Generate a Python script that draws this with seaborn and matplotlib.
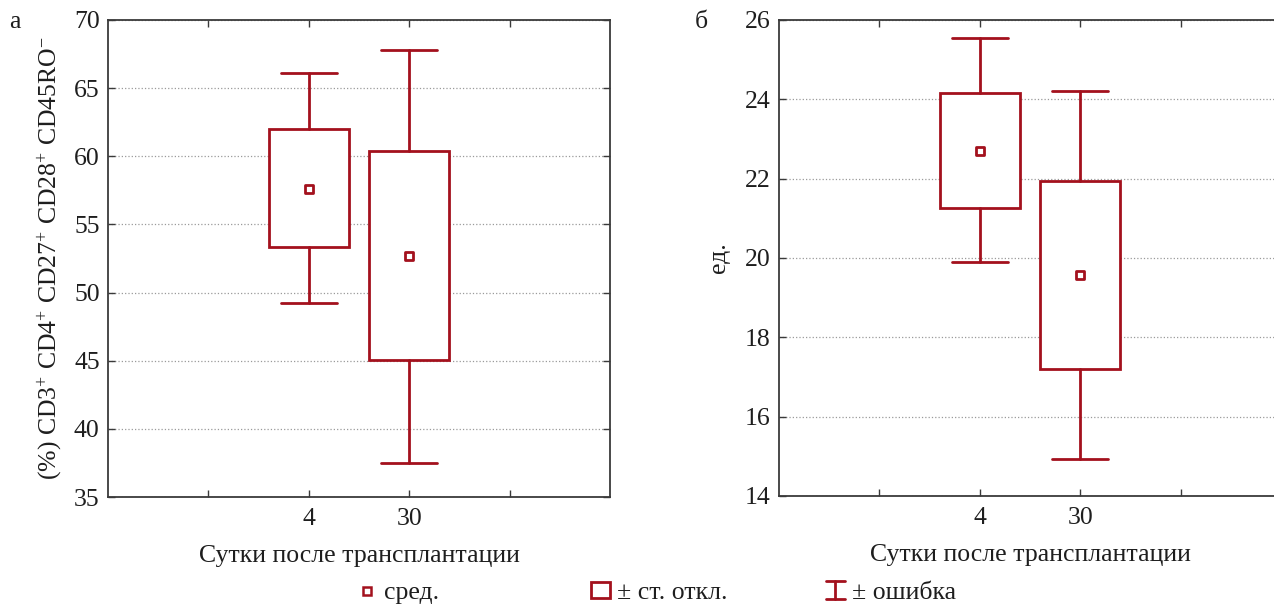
import numpy as np
import pandas as pd
import matplotlib
matplotlib.use('Agg')
import matplotlib.pyplot as plt
import seaborn as sns
from matplotlib.lines import Line2D
from matplotlib.patches import Patch
from matplotlib.legend_handler import HandlerBase

# ---- data ----
days = ['4', '30']
# panel а: (%) CD3+ CD4+ CD27+ CD28+ CD45RO-
a_mean = [57.6, 52.7]
a_sd_lo = [53.35, 45.05]
a_sd_hi = [62.0, 60.4]
a_err_lo = [49.25, 37.5]
a_err_hi = [66.1, 67.8]
# panel б: ед.
b_mean = [22.7, 19.57]
b_sd_lo = [21.26, 17.2]
b_sd_hi = [24.16, 21.94]
b_err_lo = [19.9, 14.93]
b_err_hi = [25.55, 24.2]

a_yticks = [35, 40, 45, 50, 55, 60, 65, 70]
b_yticks = [14, 16, 18, 20, 22, 24, 26]

RED = '#A3111D'
SPINE = '#3a3a3a'
TXT = '#1e1e1e'

sns.set_theme(style='white')
plt.rcParams['font.family'] = ['Liberation Serif', 'DejaVu Serif']
plt.rcParams['mathtext.fontset'] = 'custom'
plt.rcParams['mathtext.rm'] = 'Liberation Serif'
plt.rcParams['mathtext.it'] = 'Liberation Serif:italic'
FS = 18.5

fig = plt.figure(figsize=(12.74, 6.04), dpi=100)
W, H = 1274, 604


def px_axes(x0, x1, ytop, ybot):
    return fig.add_axes([x0 / W, (H - ybot) / H, (x1 - x0) / W, (ybot - ytop) / H])


ax_a = px_axes(108, 610, 20, 497)
ax_b = px_axes(779, 1281, 20, 496)

positions = [2, 3]


def draw(ax, mean, lo, hi, elo, ehi, yticks, ylabel, ylab_x):
    stats = []
    for m, l, h, el, eh, d in zip(mean, lo, hi, elo, ehi, days):
        stats.append(dict(med=m, q1=l, q3=h, whislo=el, whishi=eh, mean=m,
                          fliers=[], label=d))
    ax.bxp(stats, positions=positions, widths=0.8, capwidths=0.56,
           showfliers=False, showmeans=False, patch_artist=True,
           boxprops=dict(facecolor='white', edgecolor=RED, linewidth=2.0),
           whiskerprops=dict(color=RED, linewidth=2.0),
           capprops=dict(color=RED, linewidth=2.0),
           medianprops=dict(linewidth=0),
           zorder=3)
    df = pd.DataFrame({'pos': positions, 'mean': mean})
    sns.scatterplot(data=df, x='pos', y='mean', marker='s', s=32,
                    facecolor='white', edgecolor=RED, linewidth=2.0,
                    zorder=6, ax=ax, legend=False)
    ax.set_xlim(0, 5)
    ax.set_ylim(yticks[0], yticks[-1])
    ax.set_yticks(yticks)
    ax.set_yticklabels([str(t) for t in yticks], fontsize=FS, color=TXT)
    ax.set_xticks([1, 2, 3, 4])
    ax.set_xticklabels(['', days[0], days[1], ''], fontsize=FS, color=TXT)
    ax.tick_params(axis='both', direction='in', length=5, width=1.0,
                   color=SPINE, top=True, right=True, bottom=True, left=True)
    ax.tick_params(axis='y', pad=6)
    ax.tick_params(axis='x', pad=8)
    ax.grid(axis='y', linestyle=':', color='#9a9a9a', linewidth=0.9)
    ax.grid(axis='x', visible=False)
    ax.set_axisbelow(True)
    for s in ax.spines.values():
        s.set_color(SPINE)
        s.set_linewidth(1.3)
        s.set_visible(True)
    ax.set_xlabel('Сутки после трансплантации', fontsize=FS, color=TXT)
    ax.xaxis.set_label_coords(0.5, -0.1)
    ax.set_ylabel(ylabel, fontsize=FS, color=TXT)
    ax.yaxis.set_label_coords(ylab_x, 0.5)


draw(ax_a, a_mean, a_sd_lo, a_sd_hi, a_err_lo, a_err_hi, a_yticks,
     '(%) CD3$^{+}$ CD4$^{+}$ CD27$^{+}$ CD28$^{+}$ CD45RO$^{-}$', -0.088)
draw(ax_b, b_mean, b_sd_lo, b_sd_hi, b_err_lo, b_err_hi, b_yticks,
     'ед.', -0.097)

fig.text(15 / W, 1 - 22 / H, 'а', fontsize=FS, ha='center', va='center', color=TXT)
fig.text(701 / W, 1 - 22 / H, 'б', fontsize=FS, ha='center', va='center', color=TXT)


# ---- legend ----
class WhiskerKey:
    pass


class HandlerWhisker(HandlerBase):
    def create_artists(self, legend, orig_handle, xdescent, ydescent, width,
                       height, fontsize, trans):
        cx = -xdescent + width / 2
        y0 = -ydescent - 1
        y1 = -ydescent + height + 1
        hw = width / 2
        return [
            Line2D([cx, cx], [y0, y1], color=RED, lw=2.0, transform=trans),
            Line2D([cx - hw, cx + hw], [y0, y0], color=RED, lw=2.0, transform=trans),
            Line2D([cx - hw, cx + hw], [y1, y1], color=RED, lw=2.0, transform=trans),
        ]


mean_handle = Line2D([], [], marker='s', ls='', markersize=6,
                     markerfacecolor='white', markeredgecolor=RED, markeredgewidth=1.8)
sd_handle = Patch(facecolor='white', edgecolor=RED, linewidth=2.0)
err_handle = WhiskerKey()

items = [
    (mean_handle, 'сред.', 358),
    (sd_handle, '± ст. откл.', 591),
    (err_handle, '± ошибка', 826),
]
for h, lab, x in items:
    leg = fig.legend(handles=[h], labels=[lab], loc='center left',
                     bbox_to_anchor=(x / W, (H - 593) / H), frameon=False,
                     fontsize=FS, handlelength=0.72, handleheight=0.55,
                     handletextpad=0.3, borderpad=0, borderaxespad=0,
                     handler_map={WhiskerKey: HandlerWhisker()})
    for t in leg.get_texts():
        t.set_color(TXT)

fig.savefig('out.png', dpi=100)
